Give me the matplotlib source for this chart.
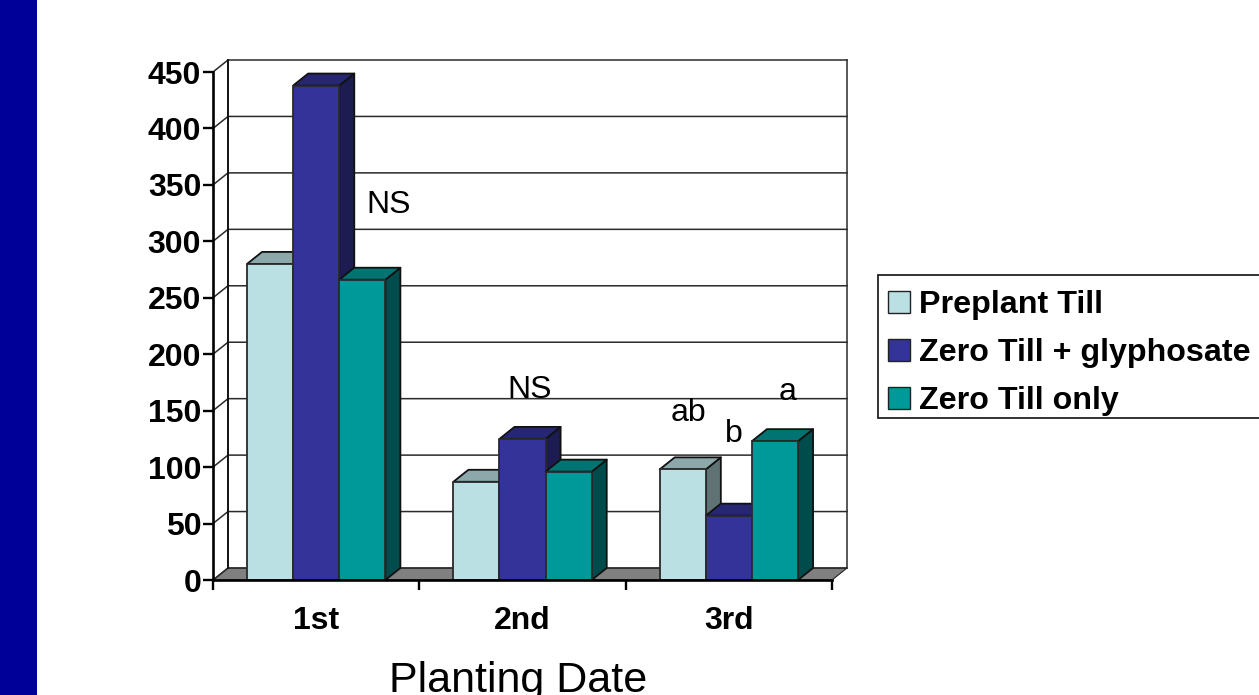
#!/usr/bin/env python3
"""
Weed counts by planting date and tillage system, drawn as a 3D-style bar chart
"""

import matplotlib
matplotlib.use('Agg')
import matplotlib.pyplot as plt
from matplotlib.patches import Patch, Polygon, Rectangle

plt.rcParams['font.family'] = ['Liberation Sans', 'DejaVu Sans']

dates = ['1st', '2nd', '3rd']
treatments = ['Preplant Till', 'Zero Till + glyphosate', 'Zero Till only']
preplant_till = [280, 87, 98]
zero_till_gly = [438, 125, 57]
zero_till_only = [266, 96, 123]
y_ticks = [0, 50, 100, 150, 200, 250, 300, 350, 400, 450]

face_colors = ['#BAE0E3', '#333399', '#009999']
top_colors = ['#8CA8AA', '#262673', '#007373']
side_colors = ['#5F7375', '#1C1C50', '#004C4C']

W, H = 1259, 695
LEFT, RIGHT, TOP, BOTTOM = 213, 832, 72, 580

fig = plt.figure(figsize=(W / 100, H / 100), dpi=100, facecolor='white')

# side band
fig.patches.append(Rectangle((0, 0), 37 / W, 1, transform=fig.transFigure,
                             facecolor='#000099', edgecolor='none'))

ax = fig.add_axes([LEFT / W, 1 - BOTTOM / H, (RIGHT - LEFT) / W, (BOTTOM - TOP) / H])
ax.set_xlim(0, 3)
ax.set_ylim(0, 450)
ax.patch.set_visible(False)

# depth of the fake 3D box, in data units
dx = 15 / ((RIGHT - LEFT) / 3)
dy = 12 / ((BOTTOM - TOP) / 450)
bar_w = 0.2235
gap = 0.165


def poly(pts, color, edge='#111111', lw=1.3, z=3):
    ax.add_patch(Polygon(pts, closed=True, facecolor=color, edgecolor=edge,
                         linewidth=lw, zorder=z, clip_on=False, joinstyle='round'))


def draw_bar(x, h, j):
    poly([(x + bar_w, 0), (x + bar_w + dx, dy), (x + bar_w + dx, h + dy), (x + bar_w, h)], side_colors[j])
    poly([(x, h), (x + dx, h + dy), (x + bar_w + dx, h + dy), (x + bar_w, h)], top_colors[j])
    poly([(x, 0), (x + bar_w, 0), (x + bar_w, h), (x, h)], face_colors[j], edge='#2a2a2a')


# floor
poly([(0, 0), (dx, dy), (3 + dx, dy), (3, 0)], '#808080', edge='#222222', lw=0.8, z=1)

# back wall and gridlines
for v in y_ticks:
    ax.plot([0, dx, 3 + dx], [v, v + dy, v + dy], color='#2a2a2a', lw=1.1, zorder=2, clip_on=False)
ax.plot([dx, dx], [dy, 450 + dy], color='#111111', lw=1.4, zorder=2, clip_on=False)
ax.plot([3 + dx, 3 + dx], [dy, 450 + dy], color='#2a2a2a', lw=1.1, zorder=2, clip_on=False)

for i in range(len(dates)):
    for j, series in enumerate([preplant_till, zero_till_gly, zero_till_only]):
        draw_bar(i + gap + j * bar_w, series[i], j)

# axes
for side in ['top', 'right']:
    ax.spines[side].set_visible(False)
for side in ['left', 'bottom']:
    ax.spines[side].set_linewidth(1.9)
    ax.spines[side].set_color('black')
    ax.spines[side].set_zorder(5)

ax.set_yticks(y_ticks)
ax.set_xticks([0, 1, 2, 3])
ax.set_xticklabels([])
ax.set_xticks([0.5, 1.5, 2.5], minor=True)
ax.set_xticklabels(dates, minor=True, fontsize=23, fontweight='bold')
ax.tick_params(axis='x', which='minor', length=0, pad=19)
ax.tick_params(axis='both', which='major', length=7, width=1.7, color='black')
ax.tick_params(axis='y', labelsize=23, pad=1.5)
for lab in ax.get_yticklabels():
    lab.set_fontweight('bold')


def px_text(x, y, s, size=23):
    fig.text(x / W, 1 - y / H, s, fontsize=size, ha='center', va='center', color='black')


# significance letters
px_text(389, 205, 'NS')
px_text(530, 390, 'NS')
px_text(688, 413, 'ab')
px_text(734, 434, 'b')
px_text(788, 392, 'a')

px_text(518, 681, 'Planting Date', size=31)

# legend box runs off the right edge
fig.patches.append(Rectangle((878 / W, 1 - 418 / H), 400 / W, 143 / H, transform=fig.transFigure,
                             facecolor='white', edgecolor='#222222', linewidth=1.3))
handles = [Patch(facecolor=c, edgecolor='#222222', linewidth=1) for c in face_colors]
fig.legend(handles, treatments, loc='upper left', bbox_to_anchor=(878 / W, 1 - 280 / H),
           frameon=False, prop={'size': 23.2, 'weight': 'bold'}, borderaxespad=0, borderpad=0.32,
           handlelength=0.68, handleheight=0.68, handletextpad=0.28, labelspacing=0.56)

plt.savefig('out.png', dpi=100)
